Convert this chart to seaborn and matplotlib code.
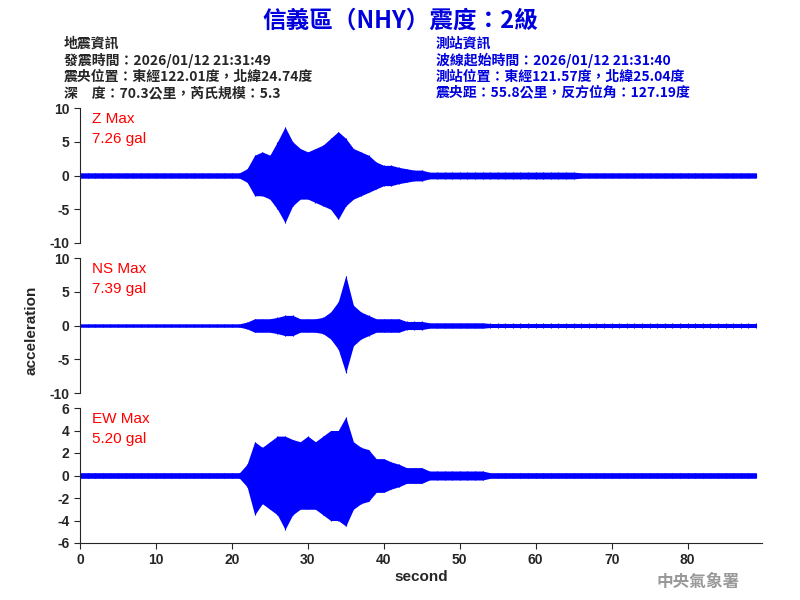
import numpy as np
import matplotlib
matplotlib.use("Agg")
import matplotlib.pyplot as plt
import seaborn as sns

sns.set_style("ticks")
plt.rcParams['font.family'] = ['Liberation Sans', 'Noto Sans CJK TC']
plt.rcParams['axes.unicode_minus'] = False

# Envelope amplitudes (gal) read per second, t = 0..89 s
seconds = list(range(90))
z_up = [0.4]*22 + [1.0,3,3.5,3,5,7.2,5,4,3.5,4,4.5,5.5,6.5,5.5,4,3.5,3,2,1.5,1.5,1.2,1,0.8,0.8] + [0.5]*20 + [0.4]*24
z_lo = [-0.4]*22 + [-1.0,-3,-3,-3.5,-5,-7,-4.5,-3.5,-3.5,-4,-4.5,-5,-6.5,-4.5,-3.5,-3,-2.5,-2,-1.5,-1.5,-1.2,-1,-0.8,-0.8] + [-0.5]*20 + [-0.4]*24
ns_up = [0.25]*22 + [0.5,1,1,1,1.2,1.5,1.5,1,1,1,1.2,2,3.5,7.4,3,2,1.5,1,1,1,1,0.6,0.6,0.6] + [0.4]*8 + [0.3]*36
ns_lo = [-0.25]*22 + [-0.5,-1,-1,-1,-1.2,-1.5,-1.5,-1,-1,-1,-1.2,-2,-3.5,-7,-3,-2,-1.5,-1,-1,-1,-1,-0.6,-0.6,-0.6] + [-0.4]*8 + [-0.3]*36
ew_up = [0.25]*22 + [1.0,3,2.5,3,3.5,3.5,3.2,3,3.5,3,3.5,4,4,5.2,3,2.5,2.3,1.5,1.5,1.2,1,0.7,0.7,0.7] + [0.4]*8 + [0.25]*36
ew_lo = [-0.25]*22 + [-1.0,-3.5,-2.5,-3,-3.5,-4.8,-3.5,-3,-3,-3,-3.5,-4,-4,-4.5,-3,-2.5,-2.3,-1.5,-1.5,-1.2,-1,-0.7,-0.7,-0.7] + [-0.4]*8 + [-0.25]*36

labels = ["Z Max\n7.26 gal", "NS Max\n7.39 gal", "EW Max\n5.20 gal"]
ylims = [(-10, 10), (-10, 10), (-6, 6)]
yticks = [[-10, -5, 0, 5, 10], [-10, -5, 0, 5, 10], [-6, -4, -2, 0, 2, 4, 6]]
xticks = [0, 10, 20, 30, 40, 50, 60, 70, 80]

fig = plt.figure(figsize=(8, 6), dpi=100)
bottoms = [0.595, 0.345, 0.095]
data = [(z_up, z_lo), (ns_up, ns_lo), (ew_up, ew_lo)]
for i, (b, (up, lo)) in enumerate(zip(bottoms, data)):
    ax = fig.add_axes([0.1, b, 0.8525, 0.225])
    t = np.array(seconds, dtype=float)
    ax.fill_between(t, lo, up, color="#0000ff", linewidth=0)
    ax.vlines(t, lo, up, color="#0000ff", linewidth=0.8)
    sns.lineplot(x=t, y=[0]*len(t), ax=ax, color="#0000ff", linewidth=1)
    ax.set_xlim(0, 89.8)
    ax.set_ylim(*ylims[i])
    ax.set_yticks(yticks[i])
    ax.set_xticks(xticks)
    for s in ["top", "right"]:
        ax.spines[s].set_visible(False)
    ax.tick_params(labelsize=10, length=4)
    for lab in ax.get_yticklabels():
        lab.set_fontweight("bold")
    if i < 2:
        ax.spines["bottom"].set_visible(False)
        ax.tick_params(axis="x", bottom=False, labelbottom=False)
    else:
        for lab in ax.get_xticklabels():
            lab.set_fontweight("bold")
        ax.set_xlabel("second", fontsize=11, fontweight="bold", labelpad=2)
    ax.text(0.018, 0.97, labels[i], transform=ax.transAxes, color="red",
            fontsize=11, va="top", linespacing=1.5)

fig.text(0.04, 0.45, "acceleration", rotation=90, fontsize=11, fontweight="bold",
         va="center", ha="center")

cjk = ['Noto Sans CJK TC', 'DejaVu Sans']
fig.text(0.5, 0.965, "信義區（NHY）震度：2級", color="#0000dd", fontsize=17,
         fontweight="bold", ha="center", va="center", family=cjk)
left_lines = ["地震資訊", "發震時間：2026/01/12 21:31:49",
              "震央位置：東經122.01度，北緯24.74度", "深　度：70.3公里，芮氏規模：5.3"]
right_lines = ["測站資訊", "波線起始時間：2026/01/12 21:31:40",
               "測站位置：東經121.57度，北緯25.04度", "震央距：55.8公里，反方位角：127.19度"]
for k, (l, r) in enumerate(zip(left_lines, right_lines)):
    y = 0.927 - k * 0.0275
    fig.text(0.08, y, l, fontsize=10, fontweight="bold", va="center", family=cjk)
    fig.text(0.545, y, r, fontsize=10, fontweight="bold", va="center",
             color="#0000dd", family=cjk)
fig.text(0.82, 0.03, "中央氣象署", fontsize=12, fontweight="bold", color="#999999",
         va="center", family=cjk)

fig.savefig("out.png", dpi=100)
